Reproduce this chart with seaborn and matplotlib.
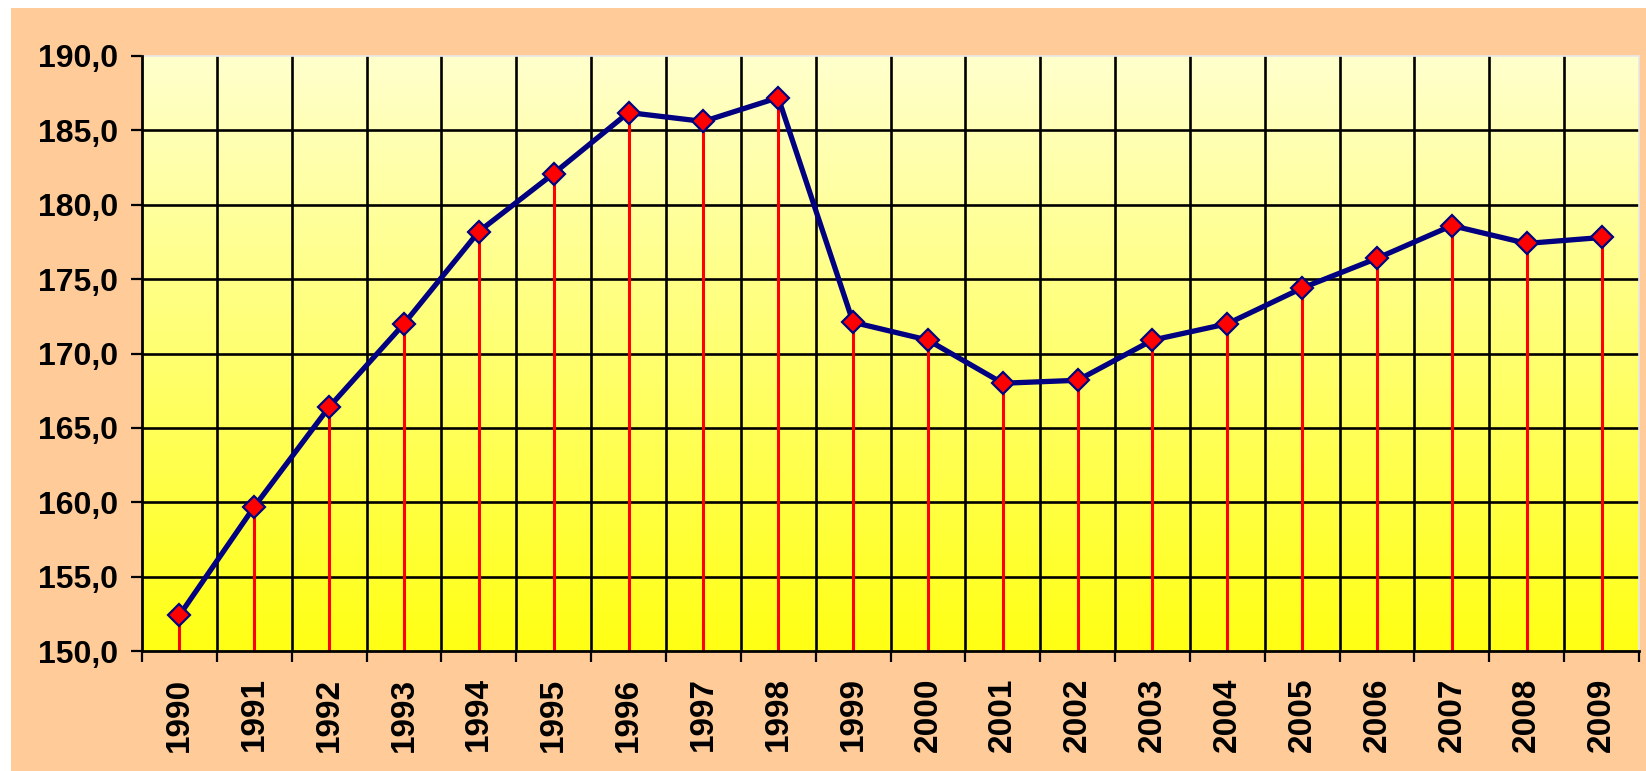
import numpy as np
import matplotlib
matplotlib.use("Agg")
import matplotlib.pyplot as plt
import seaborn as sns
from matplotlib.patches import Rectangle

# Data
years = ["1990", "1991", "1992", "1993", "1994", "1995", "1996", "1997", "1998", "1999",
         "2000", "2001", "2002", "2003", "2004", "2005", "2006", "2007", "2008", "2009"]
values = [152.4, 159.7, 166.4, 172.0, 178.2, 182.1, 186.2, 185.6, 187.2, 172.1,
          170.9, 168.0, 168.2, 170.9, 172.0, 174.4, 176.4, 178.6, 177.4, 177.8]
y_ticks = [150, 155, 160, 165, 170, 175, 180, 185, 190]
y_labels = ["150,0", "155,0", "160,0", "165,0", "170,0", "175,0", "180,0", "185,0", "190,0"]

sns.set_style("white")
plt.rcParams["font.family"] = ["Liberation Sans", "DejaVu Sans"]

W, H = 1646, 771
fig = plt.figure(figsize=(W / 100, H / 100), dpi=100, facecolor="white")
# peach chart area (thin white strip on the top and left)
fig.patches.append(Rectangle((11 / W, 0), 1 - 11 / W, 1 - 8 / H, transform=fig.transFigure,
                             facecolor="#FFCC99", edgecolor="none", zorder=-10))

ax = fig.add_axes([142 / W, 1 - 651 / H, (1639 - 142) / W, (651 - 56) / H])
ax.patch.set_alpha(0)

x = np.arange(len(years))

# yellow gradient background
grad = np.linspace(0, 1, 256).reshape(-1, 1)
top = np.array([255, 255, 205]) / 255
bottom = np.array([255, 255, 20]) / 255
img = top + (bottom - top) * grad[..., None]
ax.imshow(img, extent=[0, 1, 0, 1], transform=ax.transAxes, aspect="auto", zorder=0)

# red drop lines
ax.vlines(x, 150, values, colors="#FF0000", linewidth=2.2, zorder=3)

sns.lineplot(x=x, y=values, ax=ax, color="#000080", linewidth=3.8, marker="D",
             markersize=11.5, markerfacecolor="#FF0000", markeredgecolor="#000080",
             markeredgewidth=1.6, zorder=4)

ax.set_xlim(-0.5, len(years) - 0.5)
ax.set_ylim(150, 190)

ax.set_yticks(y_ticks)
ax.set_yticklabels(y_labels, fontsize=23, fontweight="bold", color="black")
ax.set_xticks(x)
ax.set_xticklabels(years, fontsize=24, fontweight="bold", rotation=90, color="black")
ax.set_xticks(np.arange(-0.5, len(years)), minor=True)

ax.tick_params(axis="y", which="major", direction="out", length=8, width=1.6, color="black", pad=9, left=True)
ax.tick_params(axis="x", which="major", length=0, pad=19)
ax.tick_params(axis="x", which="minor", direction="out", length=8, width=1.6, color="black", bottom=True)

ax.grid(False)
for yv in y_ticks[1:-1]:
    ax.axhline(yv, color="black", linewidth=1.9, zorder=2)
for xv in np.arange(0.5, len(years) - 1):
    ax.axvline(xv, color="black", linewidth=1.9, zorder=2)

for side in ["left", "bottom"]:
    ax.spines[side].set_color("black")
    ax.spines[side].set_linewidth(2.0)
    ax.spines[side].set_zorder(5)
for side in ["top", "right"]:
    ax.spines[side].set_color("#E8E8E8")
    ax.spines[side].set_linewidth(1.2)

ax.set_xlabel("")
ax.set_ylabel("")

fig.savefig("out.png", dpi=100, facecolor=fig.get_facecolor())
